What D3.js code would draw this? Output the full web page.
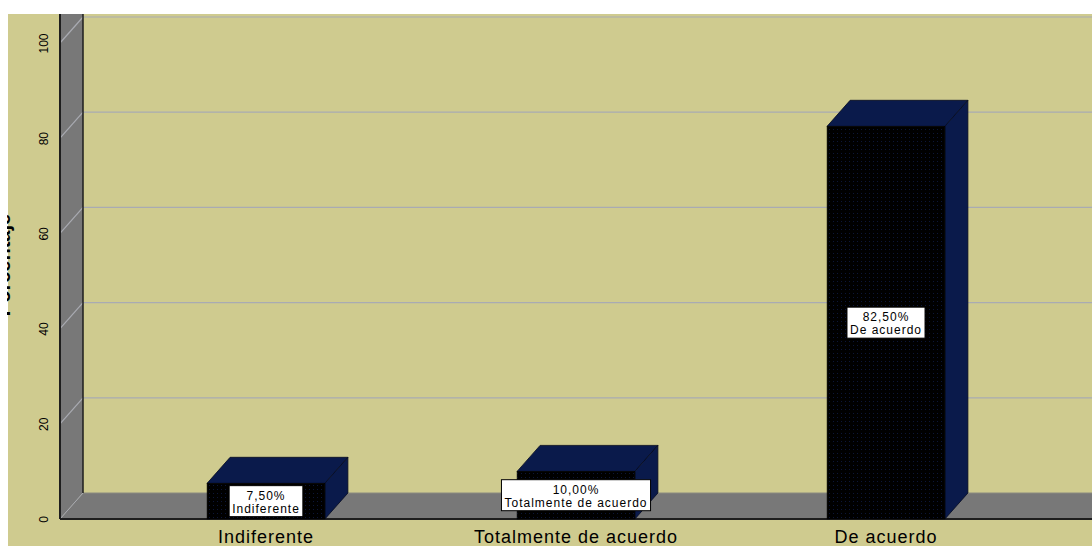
<!DOCTYPE html>
<html>
<head>
<meta charset="utf-8">
<script src="https://cdn.jsdelivr.net/npm/d3@7"></script>
<style>
  html, body { margin: 0; padding: 0; background: #ffffff; }
  svg { display: block; }
  text { font-family: "Liberation Sans", Arial, sans-serif; }
</style>
</head>
<body>
<svg id="chart" width="1092" height="546"></svg>
<script>
// Response categories and their share of answers (%)
const categories = ["Indiferente", "Totalmente de acuerdo", "De acuerdo"];
const percentages = [7.5, 10.0, 82.5];
const yTicks = [0, 20, 40, 60, 80, 100];
const axisTitle = "Porcentaje";

const W = 1092, H = 546;
const svg = d3.select("#chart");

// 3D depth offset of the chart box
const DX = 23, DY = 26;

// Front-plane scales
const y = d3.scaleLinear().domain([0, 100]).range([519, 43]);
const yBack = v => y(v) - DY;
const x = d3.scaleBand().domain(categories)
  .range([111, 1041]).paddingInner(0.62).paddingOuter(0.31);

const wallLeft = 60, wallBack = wallLeft + DX, topY = 14;
const fmt = v => d3.format(".2f")(v).replace(".", ",") + "%";

const defs = svg.append("defs");
const pat = defs.append("pattern").attr("id", "dots")
  .attr("patternUnits", "userSpaceOnUse").attr("width", 4).attr("height", 4);
pat.append("rect").attr("width", 4).attr("height", 4).attr("fill", "#000000");
pat.append("rect").attr("x", 1).attr("y", 1).attr("width", 1).attr("height", 1).attr("fill", "#0c1638");
defs.append("clipPath").attr("id", "plotClip")
  .append("rect").attr("x", 8).attr("y", topY).attr("width", W - 8).attr("height", H - topY);
defs.append("clipPath").attr("id", "titleClip")
  .append("rect").attr("x", 7).attr("y", 0).attr("width", 40).attr("height", H);

// Chart background
svg.append("rect").attr("x", 8).attr("y", topY).attr("width", W - 8).attr("height", H - topY)
  .attr("fill", "#cfcb8f");

const plot = svg.append("g").attr("clip-path", "url(#plotClip)");

// Gridlines: horizontal across the back wall
const gridVals = yTicks.filter(v => v > 0);
plot.append("g").selectAll("path").data(gridVals).join("path")
  .attr("d", v => `M${wallBack},${yBack(v)}L${W},${yBack(v)}`)
  .attr("fill", "none").attr("stroke", "#a9abb2").attr("stroke-width", 1.2);

// Side wall with its diagonal gridlines
plot.append("path")
  .attr("d", `M${wallLeft},${topY}L${wallBack},${topY}L${wallBack},${yBack(0)}L${wallLeft},${y(0)}Z`)
  .attr("fill", "#787878");
plot.append("g").selectAll("path").data(gridVals).join("path")
  .attr("d", v => `M${wallLeft},${y(v)}L${wallBack},${yBack(v)}`)
  .attr("stroke", "#a9abb2").attr("stroke-width", 1.2);

// Floor
plot.append("path")
  .attr("d", `M${wallLeft},${y(0)}L${wallBack},${yBack(0)}L${W},${yBack(0)}L${W},${y(0)}Z`)
  .attr("fill", "#787878");
plot.append("line").attr("x1", wallLeft).attr("y1", y(0)).attr("x2", wallBack).attr("y2", yBack(0))
  .attr("stroke", "#a9abb2").attr("stroke-width", 1);
plot.append("line").attr("x1", wallBack).attr("y1", yBack(0)).attr("x2", W).attr("y2", yBack(0))
  .attr("stroke", "#8a8a80").attr("stroke-width", 1);

// Box edges
plot.append("line").attr("x1", wallBack).attr("y1", topY).attr("x2", wallBack).attr("y2", yBack(0))
  .attr("stroke", "#1e1e1e").attr("stroke-width", 1.5);
plot.append("line").attr("x1", wallLeft).attr("y1", topY).attr("x2", wallLeft).attr("y2", y(0))
  .attr("stroke", "#1e1e1e").attr("stroke-width", 2);
plot.append("line").attr("x1", wallLeft).attr("y1", y(0)).attr("x2", W).attr("y2", y(0))
  .attr("stroke", "#1e1e1e").attr("stroke-width", 2);

// Bars
const bars = plot.append("g").selectAll("g").data(categories.map((c, i) => ({ c, v: percentages[i] })))
  .join("g");
const bw = x.bandwidth();
bars.append("path") // top face
  .attr("d", d => {
    const x0 = x(d.c), t = y(d.v);
    return `M${x0},${t}L${x0 + DX},${t - DY}L${x0 + bw + DX},${t - DY}L${x0 + bw},${t}Z`;
  })
  .attr("fill", "#0a1a4b").attr("stroke", "#050a20").attr("stroke-width", 0.8).attr("stroke-linejoin", "round");
bars.append("path") // side face
  .attr("d", d => {
    const x1 = x(d.c) + bw, t = y(d.v), b = y(0);
    return `M${x1},${t}L${x1 + DX},${t - DY}L${x1 + DX},${b - DY}L${x1},${b}Z`;
  })
  .attr("fill", "#0a1a4b").attr("stroke", "#050a20").attr("stroke-width", 0.8).attr("stroke-linejoin", "round");
bars.append("rect") // front face
  .attr("x", d => x(d.c)).attr("y", d => y(d.v))
  .attr("width", bw).attr("height", d => y(0) - y(d.v))
  .attr("fill", "url(#dots)").attr("stroke", "#000").attr("stroke-width", 0.6);

// Value labels
const lab = bars.append("g")
  .attr("transform", d => `translate(${x(d.c) + bw / 2},${(y(d.v) + y(0)) / 2})`);
lab.each(function(d) {
  const g = d3.select(this);
  const t1 = g.append("text").attr("y", -1.5).attr("text-anchor", "middle")
    .attr("font-size", 12).attr("letter-spacing", 1).attr("fill", "#000").text(fmt(d.v));
  const t2 = g.append("text").attr("y", 11.5).attr("text-anchor", "middle")
    .attr("font-size", 12).attr("letter-spacing", 1).attr("fill", "#000").text(d.c);
  const w = Math.max(t1.node().getComputedTextLength(), t2.node().getComputedTextLength()) + 6;
  g.insert("rect", "text").attr("x", -w / 2).attr("y", -15.5).attr("width", w).attr("height", 31)
    .attr("fill", "#ffffff").attr("stroke", "#000").attr("stroke-width", 1);
});

// Y axis tick labels (rotated)
const yAxis = svg.append("g").attr("transform", `translate(48,0)`)
  .call(d3.axisLeft(y).tickValues(yTicks).tickSize(0).tickPadding(0));
yAxis.select(".domain").remove();
yAxis.selectAll(".tick text")
  .attr("x", null).attr("dy", null)
  .attr("transform", "rotate(-90)")
  .attr("text-anchor", "middle")
  .attr("font-family", "Liberation Sans, Arial, sans-serif")
  .attr("font-size", 12).attr("fill", "#000");

// X axis category labels
const xAxis = svg.append("g").attr("transform", `translate(0,${y(0)})`)
  .call(d3.axisBottom(x).tickSize(0).tickPadding(0));
xAxis.select(".domain").remove();
xAxis.selectAll(".tick text")
  .attr("y", 24).attr("dy", null)
  .attr("font-family", "Liberation Sans, Arial, sans-serif")
  .attr("font-size", 18).attr("letter-spacing", 1).attr("fill", "#000");

// Y axis title
svg.append("g").attr("clip-path", "url(#titleClip)")
  .append("text")
  .attr("transform", "translate(10,265) rotate(-90)")
  .attr("text-anchor", "middle")
  .attr("font-size", 20).attr("font-weight", "bold").attr("fill", "#000")
  .text(axisTitle);
</script>
</body>
</html>
